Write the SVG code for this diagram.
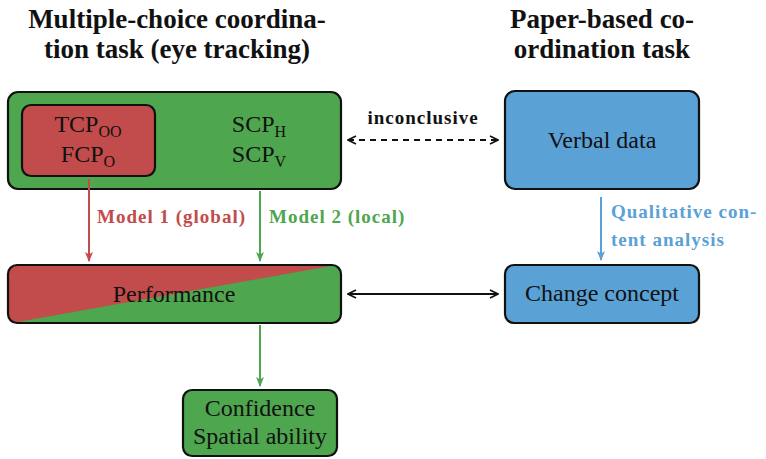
<svg xmlns="http://www.w3.org/2000/svg" width="766" height="459" viewBox="0 0 766 459" font-family="Liberation Serif">
<defs>
<marker id="ak" viewBox="0 0 10 10" refX="9" refY="5" markerWidth="10" markerHeight="10" markerUnits="userSpaceOnUse" orient="auto-start-reverse"><path d="M1,1 L9,5 L1,9" fill="none" stroke="#111" stroke-width="1.6"/></marker>
<marker id="ar" viewBox="0 0 10 10" refX="9" refY="5" markerWidth="10" markerHeight="10" markerUnits="userSpaceOnUse" orient="auto"><path d="M0,1 L10,5 L0,9 L2.5,5 Z" fill="#c24b4b"/></marker>
<marker id="ag" viewBox="0 0 10 10" refX="9" refY="5" markerWidth="10" markerHeight="10" markerUnits="userSpaceOnUse" orient="auto"><path d="M0,1 L10,5 L0,9 L2.5,5 Z" fill="#4ea64e"/></marker>
<marker id="ab" viewBox="0 0 10 10" refX="9" refY="5" markerWidth="10" markerHeight="10" markerUnits="userSpaceOnUse" orient="auto"><path d="M0,1 L10,5 L0,9 L2.5,5 Z" fill="#5aa1d6"/></marker>
<clipPath id="pc"><rect x="8" y="265" width="333" height="58" rx="9"/></clipPath>
</defs>
<g id="titles" font-size="27" font-weight="bold" fill="#111" text-anchor="middle">
<text x="177" y="28">Multiple-choice coordina-</text>
<text x="177" y="58">tion task (eye tracking)</text>
<text x="602" y="28">Paper-based co-</text>
<text x="602" y="58">ordination task</text>
</g>
<g stroke="#111" stroke-width="2.2">
<g id="eyetracking">
<rect x="8" y="92" width="333" height="97" rx="10" fill="#4ea64e"/>
<rect x="22" y="105" width="133" height="71" rx="9" fill="#c24b4b"/>
</g>
<g id="performance">
<g clip-path="url(#pc)" stroke="none">
<rect x="8" y="265" width="333" height="58" fill="#4ea64e"/>
<path d="M8,265 L336,265 L12,323 L8,323 Z" fill="#c24b4b"/>
</g>
<rect x="8" y="265" width="333" height="58" rx="9" fill="none"/>
</g>
<g id="confidence"><rect x="183" y="390" width="154" height="66" rx="9" fill="#4ea64e"/></g>
<g id="verbal"><rect x="505" y="91" width="194" height="98" rx="10" fill="#5aa1d6"/></g>
<g id="change"><rect x="505" y="265" width="194" height="58" rx="9" fill="#5aa1d6"/></g>
</g>
<g id="node-labels" font-size="24" fill="#111" text-anchor="middle">
<text x="88" y="132">TCP<tspan font-size="16" dy="5">OO</tspan></text>
<text x="88" y="162">FCP<tspan font-size="16" dy="5">O</tspan></text>
<text x="259" y="132">SCP<tspan font-size="16" dy="5">H</tspan></text>
<text x="259" y="162">SCP<tspan font-size="16" dy="5">V</tspan></text>
<text x="174" y="302">Performance</text>
<text x="260" y="416">Confidence</text>
<text x="260" y="444">Spatial ability</text>
<text x="602" y="148">Verbal data</text>
<text x="602" y="301">Change concept</text>
</g>
<g id="connectors" stroke-width="2">
<line x1="89" y1="179" x2="89" y2="261" stroke="#c24b4b" marker-end="url(#ar)"/>
<line x1="260" y1="191" x2="260" y2="261" stroke="#4ea64e" marker-end="url(#ag)"/>
<line x1="260" y1="325" x2="260" y2="386" stroke="#4ea64e" marker-end="url(#ag)"/>
<line x1="601" y1="197" x2="601" y2="260" stroke="#5aa1d6" marker-end="url(#ab)"/>
<line x1="348" y1="140" x2="498" y2="140" stroke="#111" stroke-width="1.8" stroke-dasharray="6,5" marker-start="url(#ak)" marker-end="url(#ak)"/>
<line x1="348" y1="294" x2="498" y2="294" stroke="#111" stroke-width="1.8" marker-start="url(#ak)" marker-end="url(#ak)"/>
<g font-size="19" font-weight="bold" letter-spacing="1">
<text x="97" y="223" fill="#c24b4b">Model 1 (global)</text>
<text x="269" y="223" fill="#4ea64e">Model 2 (local)</text>
<text x="423" y="124" fill="#111" text-anchor="middle">inconclusive</text>
<text x="611" y="218" fill="#5aa1d6">Qualitative con-</text>
<text x="611" y="246" fill="#5aa1d6">tent analysis</text>
</g>
</g>
</svg>
